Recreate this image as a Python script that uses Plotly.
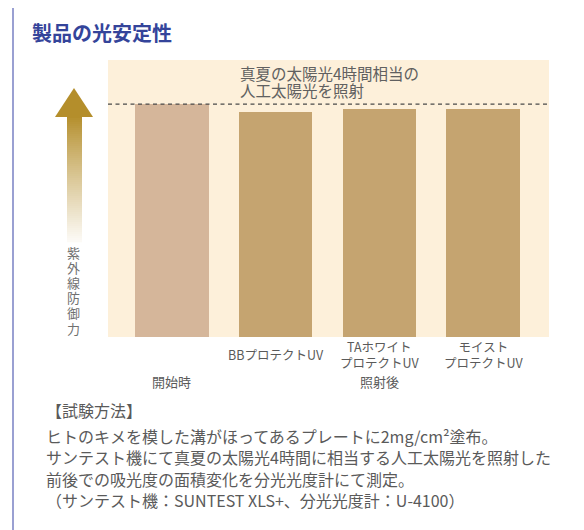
import plotly.graph_objects as go

# ---- data ----
bar_keys = ["start", "bb", "ta", "moist"]
bar_values = [100, 96.6, 97.9, 97.9]
bar_colors = ["#d5b69a", "#c5a470", "#c5a470", "#c5a470"]
product_labels = ["", "BBプロテクトUV", "TAホワイト<br>プロテクトUV", "モイスト<br>プロテクトUV"]
group_labels = ["開始時", "照射後"]
baseline_value = 100
title_text = "製品の光安定性"
note_lines = ["真夏の太陽光4時間相当の", "人工太陽光を照射"]
axis_title_chars = list("紫外線防御力")
method_lines = [
    "【試験方法】",
    "ヒトのキメを模した溝がほってあるプレートに2mg/cm²塗布。",
    "サンテスト機にて真夏の太陽光4時間に相当する人工太陽光を照射した",
    "前後での吸光度の面積変化を分光光度計にて測定。",
    "（サンテスト機：SUNTEST XLS+、分光光度計：U-4100）",
]

OFF = 8  # page body margin
W, H = 584 - OFF, 530 - OFF
L, T = 108 - OFF, 60 - OFF
R = W - (549 - OFF)
B = H - (337 - OFF)
PW, PH = W - L - R, H - T - B
FONT = "Noto Sans CJK JP"
GRAY = "#5a5a5a"


def px(x):
    return (x - OFF - L) / PW


def py(y):
    return (H - B - (y - OFF)) / PH


xs = list(range(len(bar_keys)))

fig = go.Figure()
fig.add_trace(go.Bar(
    x=xs, y=bar_values, marker=dict(color=bar_colors, line=dict(width=0)),
    width=0.71, hoverinfo="skip", showlegend=False,
))

shapes = []
# outer frame
shapes.append(dict(type="rect", xref="paper", yref="paper",
                   x0=px(13), x1=px(580), y0=py(560), y1=py(6),
                   line=dict(color="#9aa0d2", width=2), layer="below"))
# dashed baseline
shapes.append(dict(type="line", xref="paper", yref="y",
                   x0=0, x1=1, y0=baseline_value, y1=baseline_value,
                   line=dict(color="#4a4a4a", width=1.2, dash="4px,3.5px")))
# arrow head
shapes.append(dict(type="path", xref="paper", yref="paper",
                   path=f"M {px(74)} {py(88)} L {px(93)} {py(117)} L {px(55)} {py(117)} Z",
                   fillcolor="#b48e2b", line=dict(width=0)))
# arrow shaft gradient (decoration)
top_c = (180, 142, 43)
bot_c = (252, 250, 246)
y_start, y_end, step = 116, 242, 2
n = (y_end - y_start) // step
for i in range(n):
    t = i / (n - 1)
    c = tuple(round(top_c[k] + (bot_c[k] - top_c[k]) * t ** 0.9) for k in range(3))
    shapes.append(dict(type="rect", xref="paper", yref="paper",
                       x0=px(67), x1=px(82),
                       y0=py(y_start + i * step + step + 0.3), y1=py(y_start + i * step),
                       fillcolor=f"rgb{c}", line=dict(width=0)))

annotations = []
annotations.append(dict(text=f"<b>{title_text}</b>", xref="paper", yref="paper",
                        x=px(30), y=py(33), xanchor="left", yanchor="middle",
                        showarrow=False, font=dict(family=FONT, size=20, color="#34449a")))
for txt, yy in zip(note_lines, [73, 90]):
    annotations.append(dict(text=txt, xref="paper", yref="paper",
                            x=px(238), y=py(yy), xanchor="left", yanchor="middle", align="left",
                            showarrow=False, font=dict(family=FONT, size=15.5, color="#606060")))
for i, ch in enumerate(axis_title_chars):
    annotations.append(dict(text=ch, xref="paper", yref="paper",
                            x=px(73), y=py(252 + i * 15.2), xanchor="center", yanchor="middle",
                            showarrow=False, font=dict(family=FONT, size=13, color="#707070")))
for i, lab in enumerate(product_labels):
    if lab:
        annotations.append(dict(text=lab, xref="x", yref="paper", x=xs[i], y=py(354),
                                xanchor="center", yanchor="middle", showarrow=False,
                                font=dict(family=FONT, size=12.5, color=GRAY)))
annotations.append(dict(text=group_labels[0], xref="x", yref="paper", x=xs[0], y=py(381),
                        xanchor="center", yanchor="middle", showarrow=False,
                        font=dict(family=FONT, size=13, color=GRAY)))
annotations.append(dict(text=group_labels[1], xref="x", yref="paper", x=xs[2], y=py(381),
                        xanchor="center", yanchor="middle", showarrow=False,
                        font=dict(family=FONT, size=13, color=GRAY)))
line_ys = [410, 436, 457, 479, 500]
for txt, yy in zip(method_lines, line_ys):
    annotations.append(dict(text=txt, xref="paper", yref="paper", x=px(44), y=py(yy),
                            xanchor="left", yanchor="middle", showarrow=False,
                            font=dict(family=FONT, size=16, color=GRAY)))

fig.update_layout(
    width=W, height=H,
    margin=dict(l=L, r=R, t=T, b=B, pad=0),
    paper_bgcolor="white", plot_bgcolor="#fdf0da",
    xaxis=dict(range=[-0.615, 3.635], showticklabels=False, showgrid=False,
               zeroline=False, showline=False, ticks="", fixedrange=True),
    yaxis=dict(range=[0, 118.9], showticklabels=False, showgrid=False,
               zeroline=False, showline=False, ticks="", fixedrange=True),
    shapes=shapes, annotations=annotations, bargap=0,
)

fig.write_html("out.html", config=dict(displayModeBar=False))
